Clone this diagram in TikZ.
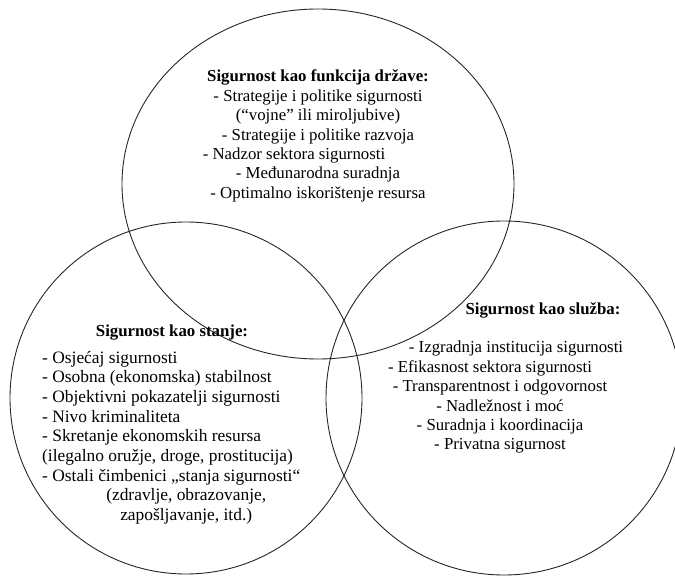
\documentclass[tikz,border=0pt]{standalone}
\usepackage{fontspec}
\setmainfont{Liberation Serif}
\usetikzlibrary{positioning}
\tikzstyle{krug} = [draw=black!85, line width=0.9pt]
\tikzstyle{tekst} = [inner sep=0pt, anchor=base, font=\fontsize{16.8}{19.4}\selectfont]

\begin{document}
\begin{tikzpicture}[x=1pt,y=-1pt]
\useasboundingbox (0,0) rectangle (675,577);

% tri kruga
\draw [krug] (318,184) ellipse [x radius=196pt, y radius=175pt];
\draw [krug] (186,398) ellipse [x radius=176pt, y radius=176pt];
\draw [krug] (504,398) ellipse [x radius=178pt, y radius=177pt];

\node [tekst] (drzava) at (318,82) {\begin{tabular}[t]{@{}c@{}}
\textbf{Sigurnost kao funkcija države:}\\
- Strategije i politike sigurnosti\\
(“vojne” ili miroljubive)\\
- Strategije i politike razvoja\\
- Nadzor sektora sigurnosti\hspace*{48pt}\mbox{}\\
- Međunarodna suradnja\\
- Optimalno iskorištenje resursa
\end{tabular}};

\node [tekst] (stanje) at (172,337) {\textbf{Sigurnost kao stanje:}};
\node [tekst, anchor=base west, font=\fontsize{17.4}{19.7}\selectfont] (stanjeLista) at (42,363) {\begin{tabular}[t]{@{}l@{}}
- Osjećaj sigurnosti\\
- Osobna (ekonomska) stabilnost\\
- Objektivni pokazatelji sigurnosti\\
- Nivo kriminaliteta\\
- Skretanje ekonomskih resursa\\
(ilegalno oružje, droge, prostitucija)\\
- Ostali čimbenici „stanja sigurnosti“\\
\multicolumn{1}{@{}c@{}}{\hspace*{30pt}(zdravlje, obrazovanje,}\\
\multicolumn{1}{@{}c@{}}{\hspace*{30pt}zapošljavanje, itd.)}
\end{tabular}};

\node [tekst] (sluzba) at (543,315) {\textbf{Sigurnost kao služba:}};
\node [tekst] (sluzbaLista) at (500,353) {\begin{tabular}[t]{@{}c@{}}
\hspace*{32pt}- Izgradnja institucija sigurnosti\\
- Efikasnost sektora sigurnosti\hspace*{20pt}\mbox{}\\
- Transparentnost i odgovornost\\
- Nadležnost i moć\\
- Suradnja i koordinacija\\
- Privatna sigurnost
\end{tabular}};
\end{tikzpicture}
\end{document}
